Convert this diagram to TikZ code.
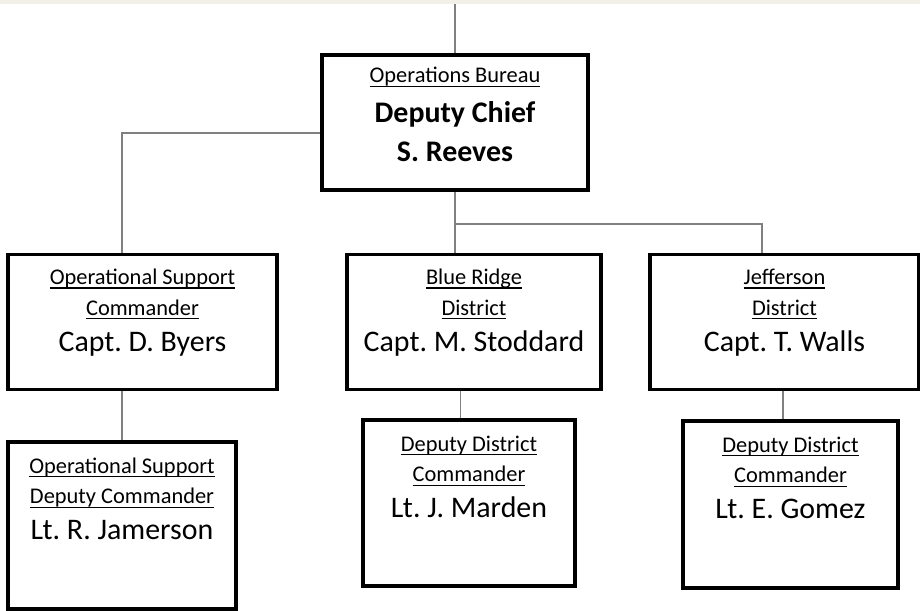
\documentclass[tikz,border=0pt]{standalone}
\usepackage{fontspec}
\setmainfont{Carlito}
\usetikzlibrary{calc,backgrounds}
\definecolor{linkgray}{RGB}{128,128,128}
\definecolor{stripbeige}{RGB}{243,240,232}
\frenchspacing
\newlength\ulwd
\newcommand\ulbl[1]{\leavevmode\settowidth\ulwd{#1}\rlap{\rule[-4bp]{\ulwd}{1.2bp}}#1}
% width, height, first baseline, headings, name
\newcommand\unittext[5]{\parbox[c][#2][t]{#1}{\centering\parskip=0pt
  \fontsize{22.5}{31}\selectfont\rule{0pt}{#3}#4\par
  \fontsize{30}{36}\selectfont #5\par}}
\tikzset{
  unit/.style={draw=black, line width=3.2bp, inner sep=0pt},
  link/.style={draw=linkgray, line width=1.8bp}
}
\begin{document}
\begin{tikzpicture}[x=1bp,y=-1bp]
  \useasboundingbox (0,0) rectangle (920,611);
  \fill[stripbeige] (0,0) rectangle (920,4.5);

  % bureau
  \node[unit] (chief) at (455,122.5) {\parbox[c][135bp][t]{266bp}{\centering\parskip=0pt
    \fontsize{22.5}{31}\selectfont\rule{0pt}{28bp}\ulbl{Operations Bureau}\par
    \fontsize{30}{39.5}\selectfont\bfseries Deputy Chief\\S. Reeves\par}};

  % captains
  \node[unit] (byers) at (142.5,322) {\unittext{269bp}{135bp}{30bp}{\ulbl{Operational Support}\\\ulbl{Commander}}{Capt. D. Byers}};
  \node[unit] (stoddard) at (474,322) {\unittext{254bp}{135bp}{30bp}{\ulbl{Blue Ridge}\\\ulbl{District}}{Capt. M. Stoddard}};
  \node[unit] (walls) at (784.5,322) {\unittext{269bp}{135bp}{30bp}{\ulbl{Jefferson}\\\ulbl{District}}{Capt. T. Walls}};

  % lieutenants
  \node[unit] (jamerson) at (122,525.5) {\unittext{228bp}{167bp}{31bp}{\ulbl{Operational Support}\\\ulbl{Deputy Commander}}{Lt. R. Jamerson}};
  \node[unit] (marden) at (469,503) {\unittext{212bp}{166bp}{31bp}{\ulbl{Deputy District}\\\ulbl{Commander}}{Lt. J. Marden}};
  \node[unit] (gomez) at (790.5,504.5) {\unittext{215bp}{167bp}{31bp}{\ulbl{Deputy District}\\\ulbl{Commander}}{Lt. E. Gomez}};

  % connectors
  \begin{scope}[on background layer]
    \coordinate (top) at (455,4.5);
    \draw[link] (chief.north) -- (top);
    \draw[link] ($(chief.west)+(0,10.5)$) -| ($(byers.north)+(-20.5,0)$);
    \draw[link] (chief.south) -- (chief.south |- stoddard.north);
    \draw[link] ($(chief.south)+(0,32)$) -| ($(walls.north)+(-22.5,0)$);
    \draw[link] (byers.south -| jamerson.north) -- (jamerson.north);
    \draw[link] ($(marden.north)+(-8.5,0)$) -- ($(marden.north |- stoddard.south)+(-8.5,0)$);
    \draw[link] ($(walls.south)+(-1.5,0)$) -- ($(walls.south |- gomez.north)+(-1.5,0)$);
  \end{scope}
\end{tikzpicture}
\end{document}
